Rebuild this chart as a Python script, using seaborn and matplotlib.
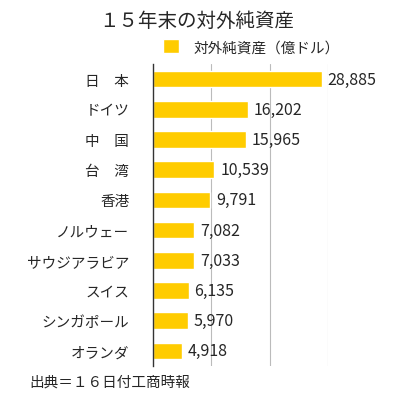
import matplotlib
matplotlib.use("Agg")
import matplotlib.pyplot as plt
import seaborn as sns
import pandas as pd

countries = ["日　本", "ドイツ", "中　国", "台　湾", "香港", "ノルウェー",
             "サウジアラビア", "スイス", "シンガポール", "オランダ"]
values = [28885, 16202, 15965, 10539, 9791, 7082, 7033, 6135, 5970, 4918]
series_name = "対外純資産（億ドル）"
title = "１５年末の対外純資産"
source = "出典＝１６日付工商時報"

sns.set_theme(style="white")
plt.rcParams['font.family'] = ['Noto Sans CJK JP', 'DejaVu Sans']

df = pd.DataFrame({"country": countries, "value": values})

fig = plt.figure(figsize=(3.93, 4.06), dpi=100)
ax = fig.add_axes([0.389, 0.096, 0.446, 0.744])

sns.barplot(data=df, x="value", y="country", color="#FFCC00", saturation=1,
            width=0.55, label=series_name, ax=ax)
handles, labels = ax.get_legend_handles_labels()
if ax.get_legend() is not None:
    ax.get_legend().remove()

ax.set_xlim(0, 30000)
ax.set_xticks([10000, 20000, 30000])
ax.set_xticklabels([])
ax.tick_params(axis="x", length=0)
ax.tick_params(axis="y", length=0, labelsize=10.5, pad=17)
ax.set_xlabel("")
ax.set_ylabel("")
for s in ["top", "right", "bottom"]:
    ax.spines[s].set_visible(False)
ax.spines["left"].set_color("#333333")
ax.spines["left"].set_linewidth(1)
ax.set_axisbelow(True)
ax.grid(visible=True, axis="x", color="#bbbbbb", linewidth=0.8)

for i, v in enumerate(values):
    ax.text(v + 1000, i, f"{v:,}", va="center", ha="left", fontsize=11.5,
            clip_on=False)

fig.text(0.5, 0.948, title, ha="center", va="center", fontsize=14)
fig.legend(handles, labels, loc="center", bbox_to_anchor=(0.64, 0.882),
           frameon=False, fontsize=10.5, handlelength=1.1, handleheight=1.1,
           handletextpad=1.0)
fig.text(0.075, 0.057, source, ha="left", va="center", fontsize=10.5)

fig.savefig("out.png", dpi=100)
